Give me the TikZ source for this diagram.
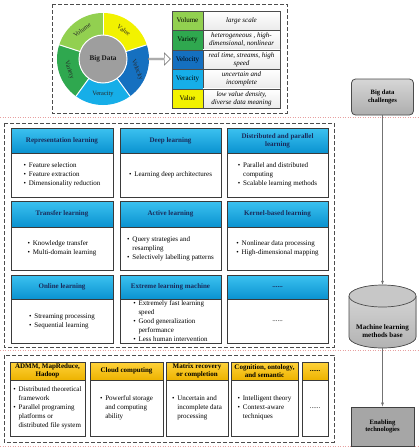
\documentclass[tikz,border=0pt]{standalone}
\usepackage{fontspec}
\setmainfont{Liberation Serif}
\usetikzlibrary{arrows.meta,shapes.arrows}
\definecolor{cvol}{HTML}{92D050}
\definecolor{cvar}{HTML}{2FA84F}
\definecolor{cvel}{HTML}{1570C0}
\definecolor{cver}{HTML}{16AEE8}
\definecolor{cval}{HTML}{F2F200}
\definecolor{hdrtop}{HTML}{3CC2F0}
\definecolor{hdrbot}{HTML}{0A92D0}
\definecolor{hdrtxt}{HTML}{1A2A5A}
\definecolor{orgtop}{HTML}{FFD23A}
\definecolor{orgbot}{HTML}{EDB300}
\definecolor{bline}{HTML}{3A3A3A}
\definecolor{pinkdot}{HTML}{E8A0A0}
\newcommand\bui{\makebox[0.75em][l]{\textbullet}}
\newcommand\buc{\hspace*{0.75em}}
\tikzset{
 base/.style={font=\fontsize{7}{8.2}\selectfont, inner sep=0pt, outer sep=0pt},
 hdr/.style={base, draw=bline, line width=0.8pt, top color=hdrtop, bottom color=hdrbot, font=\fontsize{7}{8.2}\selectfont\bfseries, text=hdrtxt, align=center},
 ohdr/.style={hdr, top color=orgtop, bottom color=orgbot, text=black},
 bdy/.style={base, draw=bline, line width=0.8pt, fill=white, align=left, font=\fontsize{7}{9}\selectfont},
 dashbox/.style={draw=black!70, dash pattern=on 4pt off 2pt, line width=0.6pt},
 pinkline/.style={draw=pinkdot, dotted, line width=0.5pt},
 conn/.style={draw=black!55, line width=0.6pt, -{Latex[length=4pt,width=3pt]}},
 cell/.style={base, draw=black!70, line width=0.5pt, align=center},
 ring/.style={font=\fontsize{6.4}{7}\selectfont, inner sep=0pt, text=black!85},
}
% name, x1, y1, x2, yh, y2, header, body, header style
\newcommand\mlbox[9]{%
 \pgfmathsetmacro\mlW{#4-#2}%
 \pgfmathsetmacro\mlHH{#5-#3}%
 \pgfmathsetmacro\mlBH{#6-#5}%
 \pgfmathsetmacro\mlCX{(#2+#4)/2}%
 \pgfmathsetmacro\mlHY{(#3+#5)/2}%
 \pgfmathsetmacro\mlBY{(#5+#6)/2}%
 \node[bdy, minimum width=\mlW pt, minimum height=\mlBH pt] (#1b) at (\mlCX,\mlBY) {#8};
 \node[#9, minimum width=\mlW pt, minimum height=\mlHH pt] (#1h) at (\mlCX,\mlHY) {#7};
}
\begin{document}
\begin{tikzpicture}[x=1pt,y=-1pt]
\useasboundingbox (0,0) rectangle (420,448);
\fill[white] (0,0) rectangle (420,448);

% faint separators
\draw[pinkline] (0,117) -- (420,117);
\draw[pinkline] (0,350) -- (420,350);
\draw[pinkline] (0,446) -- (420,446);

% ---------- top box ----------
\draw[dashbox] (52,4) rectangle (287,113);
\begin{scope}[shift={(103,59)}, y=1pt]
 \fill[cval] (0,0) -- (18:46) arc (18:90:46) -- cycle;
 \fill[cvol] (0,0) -- (90:46) arc (90:162:46) -- cycle;
 \fill[cvar] (0,0) -- (162:46) arc (162:234:46) -- cycle;
 \fill[cver] (0,0) -- (234:46) arc (234:306:46) -- cycle;
 \fill[cvel] (0,0) -- (306:46) arc (306:378:46) -- cycle;
 \foreach \a in {18,90,162,234,306} \draw[white, line width=1pt] (0,0) -- (\a:46);
 \node[circle, fill=black!38, draw=white, line width=1pt, minimum size=48pt, inner sep=0pt, font=\fontsize{7.2}{8}\selectfont\bfseries, text=black!90] (bd) at (0,0) {Big Data};
 \node[ring, rotate=36] (rvol) at (126:35.5) {Volume};
 \node[ring, rotate=-36] (rval) at (54:35.5) {Value};
 \node[ring, rotate=-72] (rvar) at (198:35.5) {Variety};
 \node[ring] (rver) at (270:35.5) {Veracity};
 \node[ring, rotate=-68] (rvel) at (342:36) {Velocity};
\end{scope}
\node[single arrow, draw=black!50, fill=white, line width=0.6pt, minimum height=22pt, minimum width=12pt, single arrow head extend=2pt, inner sep=0pt] (arr) at (159,59) {};

% table
\foreach \nm/\col/\lab/\desc [count=\i from 0] in {
  tvol/cvol/Volume/{large scale},
  tvar/cvar/Variety/{heterogeneous , high-\\dimensional, nonlinear},
  tvel/cvel/Velocity/{real time, streams, high\\speed},
  tver/cver/Veracity/{uncertain and\\incomplete},
  tval/cval/Value/{low value density,\\diverse data meaning}} {
  \node[cell, fill=\col, minimum width=31pt, minimum height=19.5pt] (\nm) at (187.5, 20.5+19.5*\i) {\lab};
  \node[cell, top color=white, bottom color=black!8, minimum width=77pt, minimum height=19.5pt, font=\fontsize{7}{7.8}\selectfont\itshape] (\nm d) at (241.5, 20.5+19.5*\i) {\desc};
}

% ---------- middle box ----------
\draw[dashbox] (4,123) rectangle (334,347);
\mlbox{m1}{11}{128}{113}{153}{197}{Representation learning}{\bui Feature selection\\\bui Feature extraction\\\bui Dimensionality reduction}{hdr}
\mlbox{m2}{120}{128}{221}{153}{197}{Deep learning}{\bui Learning deep architectures}{hdr}
\mlbox{m3}{227}{128}{328}{153}{197}{Distributed and parallel\\learning}{\bui Parallel and distributed\\\buc computing\\\bui Scalable learning methods}{hdr}
\mlbox{m4}{11}{201}{113}{227}{270}{Transfer learning}{\bui Knowledge transfer\\\bui Multi-domain learning}{hdr}
\mlbox{m5}{120}{201}{221}{227}{270}{Active learning}{\bui Query strategies and\\\buc resampling\\\bui Selectively labelling patterns}{hdr}
\mlbox{m6}{227}{201}{328}{227}{270}{Kernel-based learning}{\bui Nonlinear data processing\\\bui High-dimensional mapping}{hdr}
\mlbox{m7}{11}{275}{113}{299}{343}{Online learning}{\bui Streaming processing\\\bui Sequential learning}{hdr}
\mlbox{m8}{120}{275}{221}{299}{343}{Extreme learning machine}{\fontsize{7}{8.6}\selectfont\bui Extremely fast learning\\\buc speed\\\bui Good generalization\\\buc performance\\\bui Less human intervention}{hdr}
\mlbox{m9}{227}{275}{328}{299}{343}{......}{......}{hdr}

% ---------- bottom box ----------
\draw[dashbox] (4,355) rectangle (334,442);
\mlbox{b1}{10}{362}{85}{380}{436}{ADMM, MapReduce,\\Hadoop}{\bui Distributed theoretical\\\buc framework\\\bui Parallel programing\\\buc platforms or\\\buc distributed file system}{ohdr}
\mlbox{b2}{90}{362}{163}{380}{436}{Cloud computing}{\bui Powerful storage\\\buc and computing\\\buc ability}{ohdr}
\mlbox{b3}{166}{362}{228}{380}{436}{Matrix recovery\\or completion}{\bui Uncertain and\\\buc incomplete data\\\buc processing}{ohdr}
\mlbox{b4}{231}{362}{298}{380}{436}{Cognition, ontology,\\and semantic}{\bui Intelligent theory\\\bui Context-aware\\\buc techniques}{ohdr}
\mlbox{b5}{302}{362}{328}{380}{436}{......}{......}{ohdr}

% ---------- right column ----------
\node[draw=black!70, line width=0.8pt, rounded corners=4pt, top color=black!16, bottom color=black!32, minimum width=62pt, minimum height=36pt, inner sep=0pt, font=\fontsize{6.6}{7.6}\selectfont\bfseries, align=center] (bdc) at (382.5,97) {Big data\\challenges};

\fill[top color=black!14, bottom color=black!30] (349,296) -- (349,337) arc (180:0:33.5 and 11) -- (416,296) arc (0:-180:33.5 and 11) -- cycle;
\draw[black!70, line width=0.7pt] (349,296) -- (349,337) arc (180:0:33.5 and 11) -- (416,296);
\draw[black!70, line width=0.7pt, fill=black!22] (382.5,296) ellipse (33.5 and 11);
\node[minimum width=67pt, minimum height=63pt, inner sep=0pt] (mlb) at (382.5,316.5) {};
\node[font=\fontsize{7}{8.2}\selectfont\bfseries, align=center, inner sep=0pt] (mlbt) at (382.5,331) {Machine learning\\methods base};

\node[draw=black!75, line width=0.8pt, fill=black!35, minimum width=63pt, minimum height=39pt, inner sep=0pt, font=\fontsize{6.6}{7.6}\selectfont\bfseries, align=center] (et) at (382.5,426.5) {Enabling\\technologies};

\draw[conn] (bdc.south) -- (mlb.north);
\draw[conn] (mlb.south) -- (et.north);
\end{tikzpicture}
\end{document}
